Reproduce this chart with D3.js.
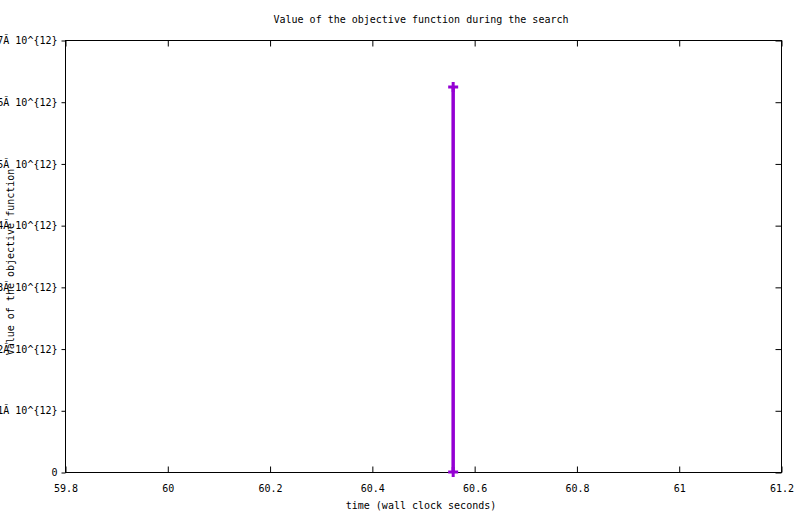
<!DOCTYPE html>
<html>
<head>
<meta charset="utf-8">
<script src="https://cdn.jsdelivr.net/npm/d3@7"></script>
<style>
  html, body { margin: 0; padding: 0; background: #fff; }
  svg { display: block; }
  text { font-family: "DejaVu Sans Mono", "Liberation Mono", monospace; font-size: 10px; fill: #000; }
</style>
</head>
<body>
<svg id="chart" width="800" height="514"></svg>
<script>
// Data
const times = [60.559, 60.559];
const values = [6.24e12, 0.0];
const xTicks = [59.8, 60, 60.2, 60.4, 60.6, 60.8, 61, 61.2];
const yTicks = [0, 1e12, 2e12, 3e12, 4e12, 5e12, 6e12, 7e12];
const yTickLabels = ["0", "1Ă 10^{12}", "2Ă 10^{12}", "3Ă 10^{12}", "4Ă 10^{12}", "5Ă 10^{12}", "6Ă 10^{12}", "7Ă 10^{12}"];
const titleText = "Value of the objective function during the search";
const xLabelText = "time (wall clock seconds)";
const yLabelText = "Value of the objective function";

const W = 800, H = 514;
const L = 65, R = 781, T = 40, B = 472;
const color = "#9400D3";

const svg = d3.select("#chart");
const x = d3.scaleLinear().domain([59.8, 61.2]).range([L, R]);
const y = d3.scaleLinear().domain([0, 7e12]).range([B, T]);

// frame
svg.append("rect").attr("x", L + 0.5).attr("y", T + 0.5)
  .attr("width", R - L).attr("height", B - T)
  .attr("fill", "none").attr("stroke", "#000").attr("stroke-width", 1);

// bottom axis (inward ticks)
const xb = svg.append("g").attr("transform", `translate(0.5,${B + 0.5})`)
  .call(d3.axisBottom(x).tickValues(xTicks).tickSize(-6).tickPadding(12)
    .tickFormat(d => d3.format("")(+d.toFixed(1))));
xb.select(".domain").remove();
xb.selectAll("line").attr("stroke", "#000");
xb.selectAll("text").attr("font-family", "DejaVu Sans Mono").attr("font-size", 10);

// top mirror ticks
const xt = svg.append("g").attr("transform", `translate(0.5,${T + 0.5})`)
  .call(d3.axisTop(x).tickValues(xTicks).tickSize(-6).tickFormat(""));
xt.select(".domain").remove();
xt.selectAll("line").attr("stroke", "#000");

// left axis
const yl = svg.append("g").attr("transform", `translate(${L + 0.5},0.5)`)
  .call(d3.axisLeft(y).tickValues(yTicks).tickSize(4).tickPadding(4)
    .tickFormat((d, i) => yTickLabels[i]));
yl.select(".domain").remove();
yl.selectAll("line").attr("stroke", "#000");
yl.selectAll("text").attr("font-family", "DejaVu Sans Mono").attr("font-size", 10);

// right mirror ticks
const yr = svg.append("g").attr("transform", `translate(${R + 0.5},0.5)`)
  .call(d3.axisRight(y).tickValues(yTicks).tickSize(-6).tickFormat(""));
yr.select(".domain").remove();
yr.selectAll("line").attr("stroke", "#000");

// data line
const pts = times.map((t, i) => [t, values[i]]);
svg.append("path").datum(pts)
  .attr("d", d3.line().x(d => x(d[0])).y(d => y(d[1])))
  .attr("fill", "none").attr("stroke", color).attr("stroke-width", 3.5);

// plus markers
svg.selectAll("path.pt").data(pts).enter().append("path")
  .attr("class", "pt")
  .attr("d", d => {
    const cx = x(d[0]), cy = y(d[1]);
    return `M${cx - 5},${cy}H${cx + 5}M${cx},${cy - 5}V${cy + 5}`;
  })
  .attr("fill", "none").attr("stroke", color).attr("stroke-width", 3);

// title & labels
svg.append("text").attr("x", 421).attr("y", 23).attr("text-anchor", "middle").text(titleText);
svg.append("text").attr("x", 421).attr("y", 509).attr("text-anchor", "middle").text(xLabelText);
svg.append("text").attr("transform", "translate(14,262) rotate(-90)").attr("text-anchor", "middle").text(yLabelText);
</script>
</body>
</html>
